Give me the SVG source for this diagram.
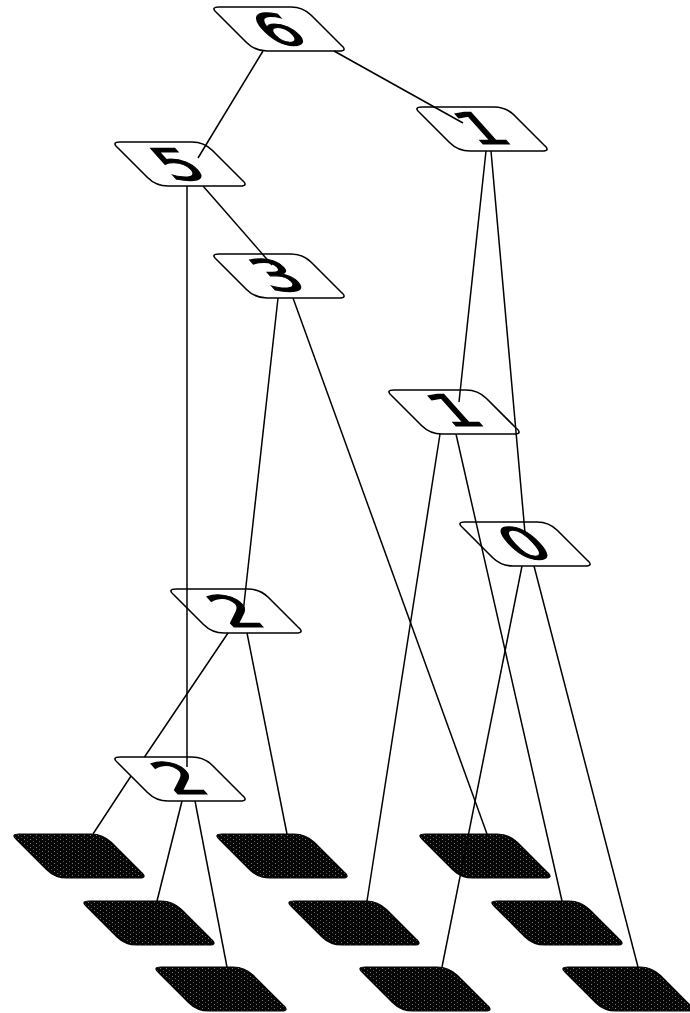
<svg xmlns="http://www.w3.org/2000/svg" xmlns:xlink="http://www.w3.org/1999/xlink" width="690" height="1013" viewBox="0 0 690 1013">
<style>
.lt{fill:#fff;stroke:#000;stroke-width:1.6}
.dk{fill:url(#dither);stroke:#000;stroke-width:1.2}
.dg{font-family:"DejaVu Sans",sans-serif;font-size:62px;text-anchor:middle;fill:#000;stroke:#000;stroke-width:1.6}
.cn path{fill:none;stroke:#000;stroke-width:1.5}
</style>
<defs>
<path id="shape" d="M8,0 H80 Q92,0 100.5,8.5 L130,38 Q137,44 128,44 H56 Q44,44 35.5,35.5 L6,6 Q-1,0 8,0 Z"/>
<pattern id="dither" width="6" height="4" patternUnits="userSpaceOnUse">
<rect width="6" height="4" fill="#060606"/>
<rect x="1" y="1" width="1" height="1" fill="#777"/>
<rect x="4" y="3" width="1" height="1" fill="#555"/>
</pattern>
</defs>
<g id="node-6"><use href="#shape" class="lt" transform="translate(211,7)"/><text class="dg" transform="translate(278,29) skewX(42) scale(1,0.7)" y="22.5">6</text></g>
<g id="node-5"><use href="#shape" class="lt" transform="translate(112,142)"/><text class="dg" transform="translate(178,164) skewX(42) scale(1,0.7)" y="22.5">5</text></g>
<g id="node-1a"><use href="#shape" class="lt" transform="translate(414,107)"/><text class="dg" transform="translate(481,128) skewX(42) scale(1,0.7)" y="22.5">1</text></g>
<g id="node-3"><use href="#shape" class="lt" transform="translate(211,254)"/><text class="dg" transform="translate(277,275) skewX(42) scale(1,0.7)" y="22.5">3</text></g>
<g id="node-1b"><use href="#shape" class="lt" transform="translate(386,390)"/><text class="dg" transform="translate(454,410) skewX(42) scale(1,0.7)" y="22.5">1</text></g>
<g id="node-0"><use href="#shape" class="lt" transform="translate(457,522)"/><text class="dg" transform="translate(524,543) skewX(42) scale(1,0.7)" y="22.5">0</text></g>
<g id="node-2a"><use href="#shape" class="lt" transform="translate(168,589)"/><text class="dg" transform="translate(235,611) skewX(42) scale(1,0.7)" y="22.5">2</text></g>
<g id="node-2b"><use href="#shape" class="lt" transform="translate(112,757)"/><text class="dg" transform="translate(179,778) skewX(42) scale(1,0.7)" y="22.5">2</text></g>
<g id="leaf-1"><use href="#shape" class="dk" transform="translate(11,834)"/></g>
<g id="leaf-2"><use href="#shape" class="dk" transform="translate(214,834)"/></g>
<g id="leaf-3"><use href="#shape" class="dk" transform="translate(417,834)"/></g>
<g id="leaf-4"><use href="#shape" class="dk" transform="translate(81,901)"/></g>
<g id="leaf-5"><use href="#shape" class="dk" transform="translate(286,901)"/></g>
<g id="leaf-6"><use href="#shape" class="dk" transform="translate(489,901)"/></g>
<g id="leaf-7"><use href="#shape" class="dk" transform="translate(153,967)"/></g>
<g id="leaf-8"><use href="#shape" class="dk" transform="translate(357,967)"/></g>
<g id="leaf-9"><use href="#shape" class="dk" transform="translate(560,967)"/></g>
<g id="connectors" class="cn">
<path d="M263,51 L198,158"/>
<path d="M334,51 L463,123"/>
<path d="M203,186 L272,265"/>
<path d="M187,186 L187,767"/>
<path d="M486,151 L459,402"/>
<path d="M491,151 L525,533"/>
<path d="M278,298 L243,613"/>
<path d="M293,298 L487,834"/>
<path d="M440,434 L367,901"/>
<path d="M456,434 L562,901"/>
<path d="M522,566 L442,967"/>
<path d="M534,566 L638,967"/>
<path d="M228,633 L144.5,757 M131,776 L93,834"/>
<path d="M247,633 L287,834"/>
<path d="M182,801 L157,901"/>
<path d="M195,801 L227,967"/>
</g>
</svg>
